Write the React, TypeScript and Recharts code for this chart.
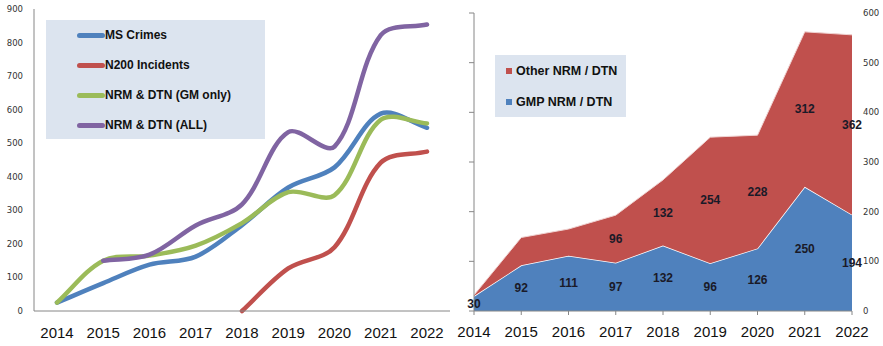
import React from 'react';
import { Area, ComposedChart, LabelList, Legend, Line, LineChart, XAxis, YAxis } from 'recharts';

// years shared by both panels
const years = ['2014', '2015', '2016', '2017', '2018', '2019', '2020', '2021', '2022'];

// left panel: smoothed lines
const msCrimes = [25, 83, 138, 162, 256, 368, 428, 588, 546];
const n200Incidents = [null, null, null, null, 0, 127, 190, 442, 475];
const nrmGmOnly = [25, 150, 165, 195, 262, 354, 345, 570, 559];
const nrmAll = [null, 150, 168, 255, 318, 533, 490, 822, 854];
const leftTicks = [0, 100, 200, 300, 400, 500, 600, 700, 800, 900];
const lineOrder = ['MS Crimes', 'N200 Incidents', 'NRM & DTN (GM only)', 'NRM & DTN (ALL)'];

// right panel: stacked areas
const gmpNrm = [30, 92, 111, 97, 132, 96, 126, 250, 194];
const otherNrm = [2, 56, 54, 96, 132, 254, 228, 312, 362];
const hiddenOtherLabels = ['2014', '2015', '2016'];
const rightTicks = [0, 100, 200, 300, 400, 500, 600];
const areaOrder = ['Other NRM / DTN', 'GMP NRM / DTN'];

const FONT = '"Liberation Sans", Arial, sans-serif';
const AXIS = '#868686';
const LEGEND_BG = '#dce4ef';
const BLUE = '#4f81bd';
const RED = '#c0504d';
const GREEN = '#9bbb59';
const PURPLE = '#8064a2';
const AREA_COLORS: Record<string, string> = { 'GMP NRM / DTN': BLUE, 'Other NRM / DTN': RED };

// Excel-like smoothing: Catmull-Rom bezier, tangents weighted by segment length
function smoothCurve(ctx: any) {
  let pts: number[][] = [];
  return {
    areaStart() {},
    areaEnd() {},
    lineStart() {
      pts = [];
    },
    point(x: number, y: number) {
      pts.push([+x, +y]);
    },
    lineEnd() {
      const n = pts.length;
      if (!n) return;
      ctx.moveTo(pts[0][0], pts[0][1]);
      for (let i = 0; i < n - 1; i++) {
        const p0 = pts[Math.max(i - 1, 0)];
        const p1 = pts[i];
        const p2 = pts[i + 1];
        const p3 = pts[Math.min(i + 2, n - 1)];
        const d01 = Math.hypot(p1[0] - p0[0], p1[1] - p0[1]);
        const d12 = Math.hypot(p2[0] - p1[0], p2[1] - p1[1]);
        const d23 = Math.hypot(p3[0] - p2[0], p3[1] - p2[1]);
        const f1 = d12 / (d01 + d12 || 1) / 3;
        const f2 = d12 / (d12 + d23 || 1) / 3;
        ctx.bezierCurveTo(
          p1[0] + (p2[0] - p0[0]) * f1,
          p1[1] + (p2[1] - p0[1]) * f1,
          p2[0] - (p3[0] - p1[0]) * f2,
          p2[1] - (p3[1] - p1[1]) * f2,
          p2[0],
          p2[1],
        );
      }
    },
  };
}

const lineRows = years.map((year, i) => ({
  year,
  msCrimes: msCrimes[i],
  n200: n200Incidents[i],
  gmOnly: nrmGmOnly[i],
  all: nrmAll[i],
}));

const areaRows = years.map((year, i) => ({
  year,
  gmp: gmpNrm[i],
  other: otherNrm[i],
  gmpMid: gmpNrm[i] / 2,
  otherMid: hiddenOtherLabels.includes(year) ? null : gmpNrm[i] + otherNrm[i] / 2,
}));

const byOrder = (payload: any[] | undefined, order: string[]) =>
  order.map((name) => (payload ?? []).find((e: any) => e.value === name)).filter(Boolean);

function LineLegend({ payload }: any) {
  return (
    <div style={{ width: 219, height: 119, background: LEGEND_BG }}>
      {byOrder(payload, lineOrder).map((e: any) => (
        <div key={e.value} style={{ display: 'flex', alignItems: 'center', height: 30, paddingLeft: 31 }}>
          <span style={{ width: 28, height: 5, borderRadius: 3, background: e.color, display: 'inline-block' }} />
          <span style={{ font: `bold 12px ${FONT}`, color: '#111' }}>{e.value}</span>
        </div>
      ))}
    </div>
  );
}

function AreaLegend({ payload }: any) {
  return (
    <div style={{ width: 131, height: 62, background: LEGEND_BG }}>
      {byOrder(payload, areaOrder).map((e: any) => (
        <div key={e.value} style={{ display: 'flex', alignItems: 'center', height: 31, paddingLeft: 11 }}>
          <span style={{ width: 6, height: 6, background: AREA_COLORS[e.value], display: 'inline-block', marginRight: 4 }} />
          <span style={{ font: `bold 12.5px ${FONT}`, color: '#111' }}>{e.value}</span>
        </div>
      ))}
    </div>
  );
}

const valueLabel = (values: number[]) => (props: any) => {
  const { x, y, index, value } = props;
  if (x == null || y == null || value == null || Number.isNaN(+y)) return null;
  return (
    <text x={x} y={y} textAnchor="middle" dominantBaseline="central" fontFamily={FONT} fontWeight="bold" fontSize={12} fill="#1a1a28">
      {values[index]}
    </text>
  );
};

export default function App() {
  const smallTick = { fontSize: 8.5, fontFamily: '"DejaVu Sans", sans-serif', fill: '#333' };
  const yearTick = { fontSize: 15, fontFamily: FONT, fill: '#111' };
  return (
    <div style={{ position: 'absolute', left: 0, top: 0, width: 883, height: 346, background: '#fff' }}>
      <div style={{ position: 'absolute', left: 0, top: 0 }}>
        <LineChart width={451} height={346} data={lineRows} margin={{ top: 9, right: 1, bottom: 0, left: 0 }}>
          <XAxis
            dataKey="year"
            scale="point"
            padding={{ left: 23, right: 23 }}
            height={35}
            stroke={AXIS}
            tickLine={false}
            tickMargin={10}
            tick={yearTick}
            interval={0}
          />
          <YAxis
            width={34}
            domain={[0, 900]}
            ticks={leftTicks}
            stroke={AXIS}
            tickLine={false}
            tickMargin={5}
            tick={smallTick}
            interval={0}
          />
          <Legend layout="vertical" align="center" verticalAlign="middle" content={<LineLegend />} wrapperStyle={{ left: 46, top: 20, width: 219, height: 119 }} />
          <Line name="MS Crimes" dataKey="msCrimes" type={smoothCurve as any} stroke={BLUE} strokeWidth={4.5} strokeLinecap="round" dot={false} isAnimationActive={false} />
          <Line name="N200 Incidents" dataKey="n200" type={smoothCurve as any} stroke={RED} strokeWidth={4.5} strokeLinecap="round" dot={false} isAnimationActive={false} />
          <Line name="NRM & DTN (GM only)" dataKey="gmOnly" type={smoothCurve as any} stroke={GREEN} strokeWidth={4.5} strokeLinecap="round" dot={false} isAnimationActive={false} />
          <Line name="NRM & DTN (ALL)" dataKey="all" type={smoothCurve as any} stroke={PURPLE} strokeWidth={4.5} strokeLinecap="round" dot={false} isAnimationActive={false} />
        </LineChart>
      </div>
      <div style={{ position: 'absolute', left: 451, top: 0 }}>
        <ComposedChart width={432} height={346} data={areaRows} margin={{ top: 13, right: 0, bottom: 0, left: 0 }}>
          <XAxis
            dataKey="year"
            scale="point"
            height={35}
            stroke={AXIS}
            tickSize={4}
            tickMargin={11}
            tick={yearTick}
            interval={0}
          />
          <YAxis
            yAxisId="l"
            width={23}
            domain={[0, 600]}
            ticks={rightTicks}
            stroke={AXIS}
            tickSize={5}
            tickFormatter={() => ''}
          />
          <YAxis
            yAxisId="r"
            orientation="right"
            width={31}
            domain={[0, 600]}
            ticks={rightTicks}
            axisLine={false}
            tickLine={false}
            tickSize={6}
            tickMargin={5}
            tick={smallTick}
            interval={0}
          />
          <Legend layout="vertical" align="center" verticalAlign="middle" content={<AreaLegend />} wrapperStyle={{ left: 44, top: 55, width: 131, height: 62 }} />
          <Area yAxisId="r" name="GMP NRM / DTN" dataKey="gmp" stackId="s" type="linear" fill={BLUE} fillOpacity={1} stroke="#ffffff" strokeWidth={1.5} isAnimationActive={false} />
          <Area yAxisId="r" name="Other NRM / DTN" dataKey="other" stackId="s" type="linear" fill={RED} fillOpacity={1} stroke="#f0d4d3" strokeWidth={1} isAnimationActive={false} />
          <Line yAxisId="l" dataKey="gmpMid" stroke="none" dot={false} activeDot={false} legendType="none" isAnimationActive={false}>
            <LabelList dataKey="gmpMid" content={valueLabel(gmpNrm)} />
          </Line>
          <Line yAxisId="l" dataKey="otherMid" stroke="none" dot={false} activeDot={false} legendType="none" isAnimationActive={false}>
            <LabelList dataKey="otherMid" content={valueLabel(otherNrm)} />
          </Line>
        </ComposedChart>
      </div>
    </div>
  );
}
